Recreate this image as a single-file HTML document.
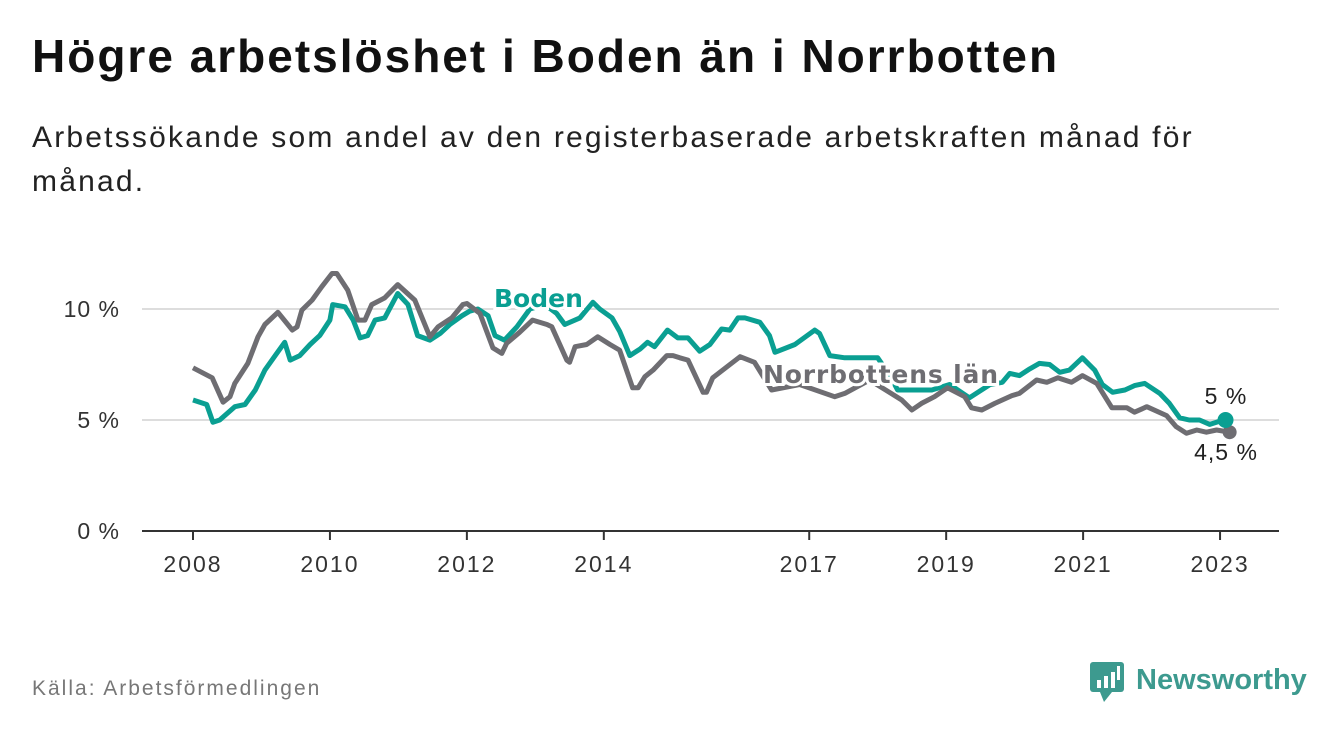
<!DOCTYPE html>
<html><head><meta charset="utf-8"><style>
body{margin:0;width:1340px;height:734px;background:#fff;font-family:"Liberation Sans",sans-serif;overflow:hidden;position:relative}
.t{position:absolute;left:32px;top:29px;font-size:46px;font-weight:bold;color:#111;letter-spacing:2px}
.s{position:absolute;left:32px;top:116px;font-size:30px;color:#222;line-height:44px;width:1240px;letter-spacing:2.2px}
.src{position:absolute;left:32px;top:677px;font-size:21px;color:#777;letter-spacing:2px}
svg{position:absolute;left:0;top:0}
</style></head><body>
<div class="t">Högre arbetslöshet i Boden än i Norrbotten</div>
<div class="s">Arbetssökande som andel av den registerbaserade arbetskraften månad för<br>månad.</div>
<div class="src">Källa: Arbetsförmedlingen</div>
<svg width="1340" height="734" id="c">
<g>
<rect x="1090" y="662" width="34" height="30" rx="3" fill="#3d9a8f"/>
<polygon points="1100,692 1112,692 1104,702" fill="#3d9a8f"/>
<rect x="1097" y="680" width="4" height="8" fill="#fff"/><rect x="1104" y="676" width="4" height="12" fill="#fff"/><rect x="1111" y="672" width="4" height="16" fill="#fff"/><rect x="1117" y="666" width="3" height="14" fill="#fff"/>
<text x="1136" y="689" font-size="29" font-weight="bold" fill="#3d9a8f" font-family="Liberation Sans, sans-serif">Newsworthy</text>
</g>
</svg>
<script>
const yearTicks=[2008,2010,2012,2014,2017,2019,2021,2023];
const valueTicks=[0,5,10];
const bodenYears=[2008.00,2008.20,2008.29,2008.39,2008.61,2008.76,2008.91,2009.05,2009.20,2009.34,2009.42,2009.56,2009.71,2009.85,2010.00,2010.04,2010.22,2010.34,2010.44,2010.55,2010.66,2010.80,2010.99,2011.14,2011.28,2011.46,2011.61,2011.75,2011.93,2012.04,2012.16,2012.31,2012.41,2012.55,2012.73,2012.92,2013.14,2013.31,2013.43,2013.65,2013.84,2013.94,2014.12,2014.23,2014.38,2014.53,2014.64,2014.74,2014.93,2015.08,2015.23,2015.40,2015.55,2015.72,2015.84,2015.96,2016.06,2016.28,2016.42,2016.50,2016.79,2017.08,2017.15,2017.30,2017.52,2018.00,2018.18,2018.29,2018.79,2019.05,2019.34,2019.64,2019.82,2019.93,2020.07,2020.22,2020.36,2020.51,2020.66,2020.80,2020.99,2021.17,2021.28,2021.43,2021.61,2021.75,2021.90,2022.12,2022.26,2022.41,2022.55,2022.70,2022.85,2023.00,2023.08];
const bodenValues=[5.9,5.7,4.9,5.0,5.6,5.7,6.35,7.25,7.9,8.5,7.7,7.9,8.4,8.8,9.5,10.2,10.1,9.5,8.7,8.8,9.5,9.6,10.7,10.2,8.8,8.6,8.9,9.3,9.7,9.9,10.0,9.7,8.8,8.6,9.2,10.0,10.2,9.8,9.3,9.6,10.3,10.0,9.6,9.0,7.9,8.2,8.5,8.3,9.05,8.7,8.7,8.1,8.4,9.1,9.05,9.6,9.6,9.4,8.8,8.05,8.4,9.05,8.9,7.9,7.8,7.8,7.0,6.35,6.35,6.6,6.0,6.6,6.7,7.1,7.0,7.3,7.55,7.5,7.15,7.25,7.8,7.25,6.6,6.25,6.35,6.55,6.65,6.2,5.75,5.1,5.0,5.0,4.8,4.95,5.0];
const lanYears=[2008.00,2008.28,2008.44,2008.54,2008.61,2008.80,2008.95,2009.05,2009.24,2009.45,2009.52,2009.59,2009.74,2009.88,2010.03,2010.10,2010.26,2010.41,2010.51,2010.61,2010.80,2010.99,2011.24,2011.46,2011.58,2011.78,2011.94,2012.00,2012.19,2012.38,2012.51,2012.58,2012.77,2012.96,2013.17,2013.24,2013.46,2013.50,2013.58,2013.75,2013.91,2014.09,2014.23,2014.42,2014.50,2014.60,2014.72,2014.92,2015.01,2015.11,2015.23,2015.45,2015.50,2015.59,2015.80,2015.99,2016.20,2016.45,2016.86,2017.37,2017.52,2017.88,2018.35,2018.50,2018.64,2018.83,2019.02,2019.27,2019.37,2019.52,2019.71,2019.96,2020.07,2020.32,2020.47,2020.63,2020.83,2020.99,2021.20,2021.42,2021.64,2021.75,2021.93,2022.22,2022.36,2022.51,2022.66,2022.80,2022.95,2023.14];
const lanValues=[7.35,6.9,5.8,6.05,6.65,7.55,8.75,9.3,9.85,9.05,9.2,9.95,10.4,11.0,11.6,11.6,10.85,9.5,9.5,10.2,10.5,11.1,10.4,8.75,9.2,9.6,10.2,10.25,9.8,8.25,8.0,8.45,8.95,9.5,9.3,9.2,7.7,7.6,8.3,8.4,8.75,8.4,8.15,6.45,6.45,6.95,7.25,7.9,7.9,7.8,7.7,6.25,6.25,6.9,7.4,7.85,7.6,6.35,6.6,6.05,6.2,6.8,5.9,5.45,5.75,6.05,6.45,6.05,5.55,5.45,5.75,6.1,6.2,6.8,6.7,6.9,6.7,7.0,6.65,5.55,5.55,5.35,5.6,5.2,4.7,4.4,4.55,4.45,4.55,4.45];
const bodenLast="5 %", lanLast="4,5 %";
const NS="http://www.w3.org/2000/svg";
const svg=document.getElementById('c');
const X=y=>193+(y-2008)*68.47, Y=v=>531-v*22.2;
const TEAL="#0a9f92", GRAY="#6e6d72";
function mk(tag,attrs,parent){const e=document.createElementNS(NS,tag);for(const k in attrs)e.setAttribute(k,attrs[k]);(parent||svg).appendChild(e);return e;}
valueTicks.forEach(v=>{
 const g=mk('line',{x1:142,x2:1279,y1:Y(v),y2:Y(v),stroke:v===0?'#333':'#ddd','stroke-width':2});
 
 
 const t=mk('text',{x:120,y:Y(v)+8,'text-anchor':'end','font-size':23,'letter-spacing':1,fill:'#333'});t.textContent=v+' %';
 
 
});
yearTicks.forEach(y=>{
 const l=mk('line',{x1:X(y),x2:X(y),y1:531,y2:540,stroke:'#333','stroke-width':2});
 
 
 const t=mk('text',{x:X(y),y:572,'text-anchor':'middle','font-size':23,'letter-spacing':2,fill:'#333'});t.textContent=y;
 
 
});
function path(ys,vs){return ys.map((y,i)=>(i?'L':'M')+X(y).toFixed(1)+','+Y(vs[i]).toFixed(1)).join('');}
const pb=mk('path',{d:path(bodenYears,bodenValues),fill:'none',stroke:TEAL,'stroke-width':5,'stroke-linejoin':'round'});


const pl=mk('path',{d:path(lanYears,lanValues),fill:'none',stroke:GRAY,'stroke-width':5,'stroke-linejoin':'round'});


const bn=bodenYears.length-1, ln=lanYears.length-1;
const d2=mk('circle',{cx:X(lanYears[ln]),cy:Y(lanValues[ln]),r:7,fill:GRAY});


const d1=mk('circle',{cx:X(bodenYears[bn]),cy:Y(bodenValues[bn]),r:8,fill:TEAL});


const e1=mk('text',{x:1226,y:404,'text-anchor':'middle','font-size':23,'letter-spacing':1,fill:'#222'});e1.textContent=bodenLast;


const e2=mk('text',{x:1226,y:460,'text-anchor':'middle','font-size':23,'letter-spacing':1,fill:'#222'});e2.textContent=lanLast;


const lb=mk('text',{x:494,y:307,'font-size':25,'font-weight':'bold',fill:TEAL,stroke:'#fff','stroke-width':6,'paint-order':'stroke','font-family':'DejaVu Sans, sans-serif'});lb.textContent='Boden';


const ll=mk('text',{x:763,y:383,'font-size':25,'font-weight':'bold',fill:GRAY,stroke:'#fff','stroke-width':6,'paint-order':'stroke','font-family':'DejaVu Sans, sans-serif',textLength:235});ll.textContent='Norrbottens län';


</script>
</body></html>
